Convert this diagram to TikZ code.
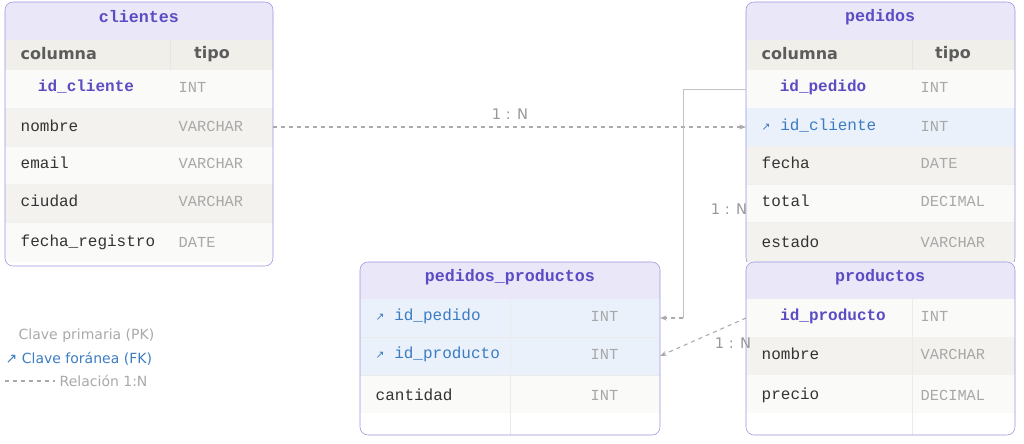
\documentclass[tikz,border=0pt]{standalone}
\usepackage{fontspec}
\setmainfont{DejaVu Sans}
\newfontfamily\namefont{Liberation Mono}
\newfontfamily\typefont{Liberation Mono}
\usetikzlibrary{arrows.meta}
\definecolor{edge}{HTML}{9B92E0}
\definecolor{titlebg}{HTML}{E9E7F8}
\definecolor{headbg}{HTML}{F0EFEA}
\definecolor{rowa}{HTML}{FAFAF9}
\definecolor{rowb}{HTML}{F3F2EE}
\definecolor{fkbg}{HTML}{EAF1FB}
\definecolor{pk}{HTML}{5B4CC4}
\definecolor{fk}{HTML}{3C7CC2}
\definecolor{txt}{HTML}{333333}
\definecolor{typ}{HTML}{A8A8A8}
\definecolor{rel}{HTML}{A9A9A9}
\tikzset{
  title/.style={font=\namefont\bfseries\fontsize{12.5}{14}\selectfont, text=pk},
  head/.style={font=\bfseries\fontsize{12}{14}\selectfont, text=txt!80},
  field/.style={font=\namefont\fontsize{12}{14}\selectfont, text=txt, anchor=west},
  pkfield/.style={font=\namefont\bfseries\fontsize{12}{14}\selectfont, text=pk},
  fkfield/.style={font=\namefont\fontsize{12}{14}\selectfont, text=fk, anchor=west},
  type/.style={font=\typefont\fontsize{11.5}{13}\selectfont, text=typ, anchor=west},
  rel/.style={draw=rel, dashed, thick, -{Stealth[open,length=5pt]}},
  card/.style={font=\fontsize{11}{13}\selectfont, text=rel!90!black},
  legend/.style={font=\fontsize{10.5}{12}\selectfont, anchor=west},
}
\newcommand\fkmark{{\fontspec{DejaVu Sans}\footnotesize↗}\ }
\begin{document}
\begin{tikzpicture}[x=0.75pt,y=-0.75pt]
\useasboundingbox (0,0) rectangle (1024,443);

% clientes
\fill[rowa] (5,70) rectangle (273,108);
\fill[rowb] (5,108) rectangle (273,146);
\fill[rowa] (5,146) rectangle (273,184);
\fill[rowb] (5,184) rectangle (273,222);
\fill[rowa] (5,222) rectangle (273,262);
\fill[headbg] (5,40) rectangle (273,70);
\fill[titlebg, rounded corners=6pt] (5,2) rectangle (273,30);
\fill[titlebg] (5,20) rectangle (273,40);
\draw[black!10] (170,40) -- (170,70);
\draw[black!6] (5,108) -- (273,108) (5,146) -- (273,146) (5,184) -- (273,184) (5,222) -- (273,222);
\draw[edge, rounded corners=6pt] (5,2) rectangle (273,266);
\node[title] (cli) at (139,17) {clientes};
\node[head, anchor=west] (clihc) at (16,54) {columna};
\node[head] (cliht) at (212,54) {tipo};
\node[pkfield] (cli1) at (86,87) {id\_cliente};
\node[type] (cli1t) at (174,87) {INT};
\node[field] (cli2) at (16,126) {nombre};
\node[type] (cli2t) at (174,126) {VARCHAR};
\node[field] (cli3) at (16,163) {email};
\node[type] (cli3t) at (174,163) {VARCHAR};
\node[field] (cli4) at (16,201) {ciudad};
\node[type] (cli4t) at (174,201) {VARCHAR};
\node[field] (cli5) at (16,242) {fecha\_registro};
\node[type] (cli5t) at (174,242) {DATE};

% pedidos
\fill[rowa] (746,70) rectangle (1015,108);
\fill[fkbg] (746,108) rectangle (1015,146);
\fill[rowb] (746,146) rectangle (1015,184);
\fill[rowa] (746,184) rectangle (1015,222);
\fill[rowb] (746,222) rectangle (1015,262);
\fill[headbg] (746,40) rectangle (1015,70);
\fill[titlebg, rounded corners=6pt] (746,2) rectangle (1015,30);
\fill[titlebg] (746,20) rectangle (1015,40);
\draw[black!10] (912,40) -- (912,70);
\draw[black!6] (746,146) -- (1015,146) (746,184) -- (1015,184) (746,222) -- (1015,222);
\draw[edge, rounded corners=6pt] (746,2) rectangle (1015,266);
\node[title] (ped) at (880,17) {pedidos};
\node[head, anchor=west] (pedhc) at (757,54) {columna};
\node[head] (pedht) at (953,54) {tipo};
\node[pkfield] (ped1) at (823,87) {id\_pedido};
\node[type] (ped1t) at (916,87) {INT};
\node[fkfield] (ped2) at (757,126) {\fkmark id\_cliente};
\node[type] (ped2t) at (916,126) {INT};
\node[field] (ped3) at (757,163) {fecha};
\node[type] (ped3t) at (916,163) {DATE};
\node[field] (ped4) at (757,201) {total};
\node[type] (ped4t) at (916,201) {DECIMAL};
\node[field] (ped5) at (757,242) {estado};
\node[type] (ped5t) at (916,242) {VARCHAR};

% pedidos_productos
\fill[white] (360,262) rectangle (660,435);
\fill[fkbg] (360,299) rectangle (660,375);
\fill[rowa] (360,375) rectangle (660,413);
\fill[titlebg, rounded corners=6pt] (360,262) rectangle (660,290);
\fill[titlebg] (360,280) rectangle (660,299);
\draw[black!8] (510,299) -- (510,435) (360,337) -- (660,337) (360,375) -- (660,375);
\draw[edge, rounded corners=6pt] (360,262) rectangle (660,435);
\node[title] (pp) at (510,277) {pedidos\_productos};
\node[fkfield] (pp1) at (371,316) {\fkmark id\_pedido};
\node[type] (pp1t) at (586,316) {INT};
\node[fkfield] (pp2) at (371,354) {\fkmark id\_producto};
\node[type] (pp2t) at (586,354) {INT};
\node[field] (pp3) at (371,395) {cantidad};
\node[type] (pp3t) at (586,395) {INT};

% productos
\fill[white] (746,262) rectangle (1015,435);
\fill[rowa] (746,299) rectangle (1015,337);
\fill[rowb] (746,337) rectangle (1015,375);
\fill[rowa] (746,375) rectangle (1015,413);
\fill[titlebg, rounded corners=6pt] (746,262) rectangle (1015,290);
\fill[titlebg] (746,280) rectangle (1015,299);
\draw[black!8] (912,299) -- (912,435);
\draw[edge, rounded corners=6pt] (746,262) rectangle (1015,435);
\node[title] (pro) at (880,277) {productos};
\node[pkfield] (pro1) at (833,316) {id\_producto};
\node[type] (pro1t) at (916,316) {INT};
\node[field] (pro2) at (757,354) {nombre};
\node[type] (pro2t) at (916,354) {VARCHAR};
\node[field] (pro3) at (757,395) {precio};
\node[type] (pro3t) at (916,395) {DECIMAL};

% relaciones
\coordinate (r1a) at (273,127);
\coordinate (r1b) at (746,127);
\draw[rel] (r1a) -- (r1b);
\node[card] (c1) at (510,114) {1 : N};
\coordinate (r2a) at (746,89);
\coordinate (r2b) at (660,318);
\draw[rel!70, solid] (r2a) -- (683,89) -- (683,318);
\draw[rel] (683,318) -- (r2b);
\node[card] (c2) at (729,209) {1 : N};
\coordinate (r3a) at (746,318);
\coordinate (r3b) at (660,356);
\draw[rel] (r3a) -- (r3b);
\node[card] (c3) at (733,343) {1 : N};

% leyenda
\node[legend, text=rel] (lpk) at (14,336) {Clave primaria (PK)};
\node[legend, text=fk] (lfk) at (1,359) {↗ Clave foránea (FK)};
\coordinate (lr) at (55,381);
\draw[rel, -] (5,381) -- (lr);
\node[legend, text=rel] (lrel) at (lr) {Relación 1:N};
\end{tikzpicture}
\end{document}
